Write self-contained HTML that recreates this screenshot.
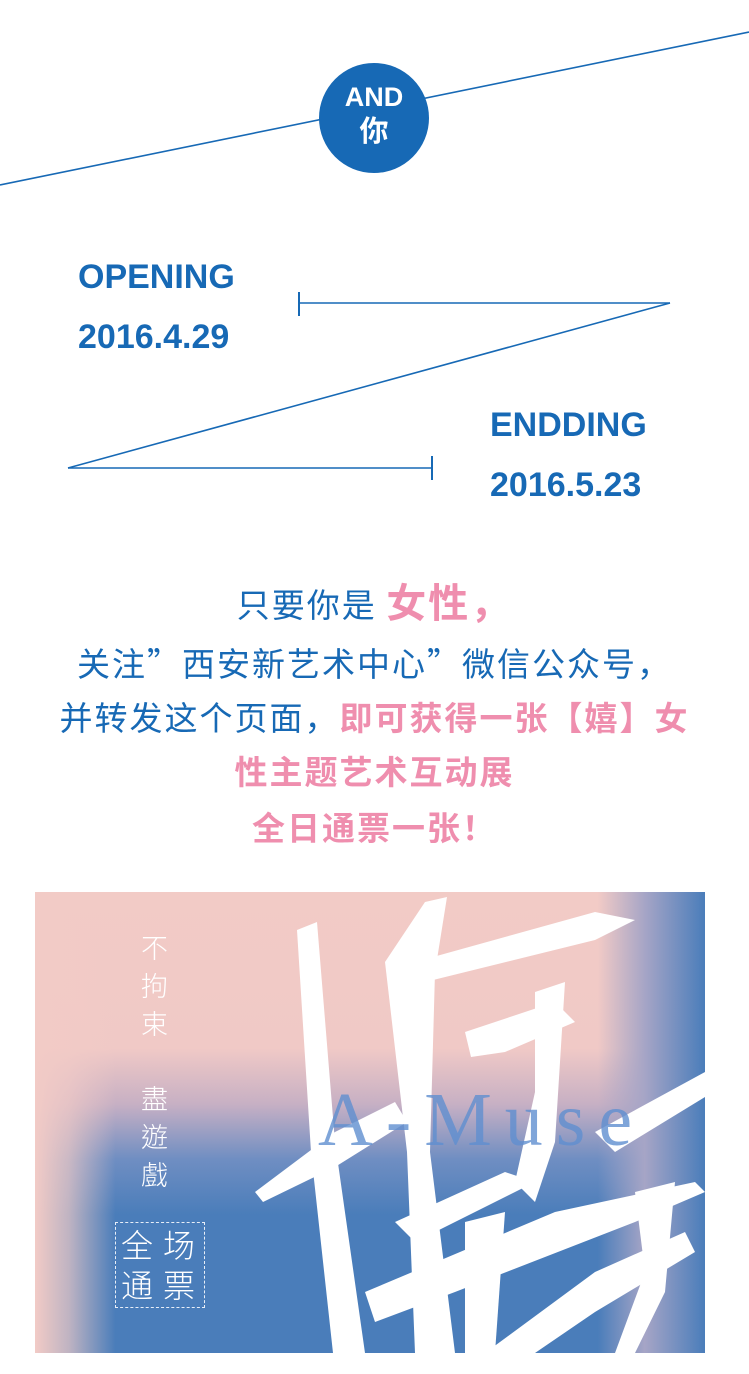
<!DOCTYPE html>
<html><head><meta charset="utf-8">
<style>
body{margin:0;width:749px;height:1374px;background:#fff;position:relative;overflow:hidden;font-family:"Liberation Sans","Noto Sans CJK SC",sans-serif;}
.abs{position:absolute;}
.ht{font-weight:bold;font-size:34px;color:#1769b5;}
.line{position:absolute;left:0;width:749px;text-align:center;font-family:"Noto Sans CJK SC",sans-serif;font-size:33px;letter-spacing:2px;color:#1769b5;line-height:40px;}
.pk{color:#ef8eae;font-weight:bold;}
.vt{position:absolute;color:#fff;font-family:"Noto Sans CJK TC","Noto Sans CJK SC",sans-serif;font-weight:300;font-size:27px;line-height:38px;width:30px;}
</style></head>
<body>
<svg class="abs" style="left:0;top:0" width="749" height="520">
<line x1="0" y1="185" x2="749" y2="32" stroke="#1769b5" stroke-width="1.6"/>
<line x1="299" y1="303" x2="670" y2="303" stroke="#1769b5" stroke-width="1.6"/>
<line x1="299" y1="292" x2="299" y2="316" stroke="#1769b5" stroke-width="2"/>
<line x1="670" y1="303" x2="68" y2="468" stroke="#1769b5" stroke-width="1.6"/>
<line x1="68" y1="468" x2="432" y2="468" stroke="#1769b5" stroke-width="1.6"/>
<line x1="432" y1="456" x2="432" y2="480" stroke="#1769b5" stroke-width="2"/>
<circle cx="374" cy="118" r="55" fill="#1769b5"/>
<text x="374" y="106" text-anchor="middle" fill="#fff" font-weight="bold" font-size="27" font-family="Liberation Sans,sans-serif">AND</text>
<text x="374" y="141" text-anchor="middle" fill="#fff" font-weight="bold" font-size="29" font-family="Noto Sans CJK SC,sans-serif">你</text>
</svg>
<div class="abs ht" style="left:78px;top:258px">OPENING</div>
<div class="abs ht" style="left:78px;top:318px">2016.4.29</div>
<div class="abs ht" style="left:490px;top:406px">ENDDING</div>
<div class="abs ht" style="left:490px;top:466px">2016.5.23</div>

<div class="line" style="top:580px">只要你是 <span class="pk" style="font-size:40px">女性，</span></div>
<div class="line" style="top:642px">关注”西安新艺术中心”微信公众号，</div>
<div class="line" style="top:696px">并转发这个页面，<span class="pk">即可获得一张【嬉】女</span></div>
<div class="line pk" style="top:750px">性主题艺术互动展</div>
<div class="line pk" style="top:806px">全日通票一张！</div>

<div class="abs" style="left:35px;top:892px;width:670px;height:461px;overflow:hidden;background:#4a7dba">
 <div class="abs" style="inset:0;background:linear-gradient(180deg,#f2cbc6 0%,#f0c9c6 34%,#c7b0c4 46%,#6f8ec2 58%,rgba(74,125,186,0) 70%)"></div>
 <div class="abs" style="inset:0;background:linear-gradient(90deg,rgba(242,203,198,1) 0%,rgba(242,203,198,0.7) 5%,rgba(242,203,198,0) 12%)"></div>
 <div class="abs" style="inset:0;background:linear-gradient(90deg,rgba(74,125,186,0) 84%,#a6a5c6 91%,#4a7dba 100%)"></div>
 <svg class="abs" style="left:0;top:0" width="670" height="461">
  <g fill="#fff">
   <path d="M262 38 L282 30 L300 250 L330 461 L298 461 L276 260 Z"/>
   <path d="M220 300 L300 240 L360 210 L372 230 L300 275 L228 310 Z"/>
   <path d="M350 70 L390 10 L412 5 L400 80 L395 260 L420 461 L380 461 L372 260 Z"/>
   <path d="M380 70 L560 20 L600 28 L560 48 L390 90 Z"/>
   <path d="M430 140 L520 110 L540 130 L470 160 L436 165 Z"/>
   <path d="M500 100 L530 90 L520 250 L500 310 L480 290 L500 200 Z"/>
   <path d="M330 400 L520 320 L660 290 L670 300 L600 330 L420 400 L340 430 Z"/>
   <path d="M360 330 L470 280 L500 290 L380 350 Z"/>
   <path d="M560 240 L670 180 L670 205 L580 260 Z"/>
   <path d="M450 461 L560 380 L650 340 L660 360 L560 420 L500 461 Z"/>
   <path d="M600 300 L640 290 L630 400 L600 461 L580 461 L610 380 Z"/>
   <path d="M430 330 L470 320 L460 461 L430 461 Z"/>
  </g>
  <text x="283" y="253" font-family="Liberation Serif,serif" font-size="76" fill="#5f8fcf" fill-opacity="0.8" letter-spacing="13">A-Muse</text>
 </svg>
 <div class="vt" style="left:106px;top:36px">不拘束</div>
 <div class="vt" style="left:106px;top:187px">盡遊戲</div>
 <div class="abs" style="left:80px;top:330px;width:88px;height:84px;border:1px dashed #e8eef8"></div>
 <div class="abs" style="left:86px;top:332px;color:#fff;font-family:'Noto Sans CJK SC',sans-serif;font-weight:300;font-size:32px;line-height:40px;letter-spacing:10px">全场<br>通票</div>
</div>
</body></html>
